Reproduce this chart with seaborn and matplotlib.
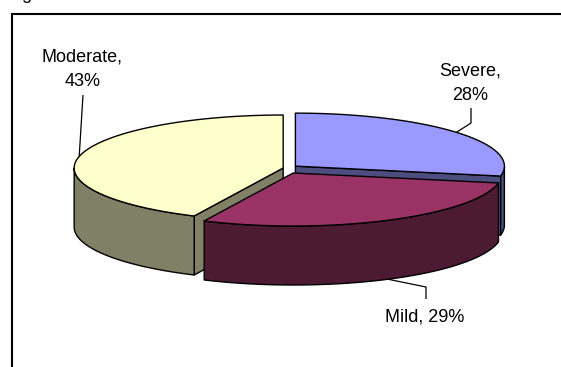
import numpy as np
import matplotlib
matplotlib.use("Agg")
import matplotlib.pyplot as plt
from matplotlib.patches import Polygon
import seaborn as sns

# Severity split
categories = ["Severe", "Mild", "Moderate"]
shares = [28, 29, 43]
top_colors = ["#9999FF", "#993366", "#FFFFCC"]

sns.set_theme(style="white")
plt.rcParams["font.family"] = ["Liberation Sans", "DejaVu Sans"]

W, H = 561, 367
fig = plt.figure(figsize=(W / 100, H / 100), dpi=100)
ax = fig.add_axes([0, 0, 1, 1])
ax.set_xlim(0, W)
ax.set_ylim(H, 0)
ax.axis("off")

# 3-D pie geometry (pixel units)
CX, CY = 290, 169
RX, RY = 209, 53
DEPTH = 59
EXPLODE_X, EXPLODE_Y = 7, 4.5
EDGE = dict(edgecolor="black", linewidth=1.0, joinstyle="round")

palette = sns.color_palette(top_colors)
side_colors = [tuple(0.5 * np.array(c)) for c in palette]


def rim(center, deg, dz=0.0):
    t = np.radians(deg)
    return (center[0] + RX * np.sin(t), center[1] - RY * np.cos(t) + dz)


def arc(center, a1, a2, dz=0.0, n=120):
    ts = np.linspace(a1, a2, n)
    return [rim(center, t, dz) for t in ts]


total = float(sum(shares))
bounds = np.concatenate([[0.0], np.cumsum(shares) / total * 360.0])
slices = []
for i, cat in enumerate(categories):
    a1, a2 = bounds[i], bounds[i + 1]
    mid = np.radians((a1 + a2) / 2)
    center = (CX + EXPLODE_X * np.sin(mid), CY - EXPLODE_Y * np.cos(mid))
    slices.append(dict(a1=a1, a2=a2, mid=np.degrees(mid), center=center, idx=i))

# painter's order: back slices first, the slice nearest the viewer last
order = sorted(slices, key=lambda s: -np.cos(np.radians(s["mid"])))

for s in order:
    c, a1, a2, i = s["center"], s["a1"], s["a2"], s["idx"]
    # radial cut faces that turn towards the viewer
    for a, normal in ((a1, a1 - 90), (a2, a2 + 90)):
        if np.cos(np.radians(normal)) < -1e-6:
            p = rim(c, a)
            quad = [c, p, (p[0], p[1] + DEPTH), (c[0], c[1] + DEPTH)]
            ax.add_patch(Polygon(quad, closed=True, facecolor=side_colors[i], **EDGE))
    # outer curved wall on the front half
    lo, hi = max(a1, 90.0), min(a2, 270.0)
    if hi > lo:
        wall = arc(c, lo, hi) + arc(c, hi, lo, DEPTH)
        ax.add_patch(Polygon(wall, closed=True, facecolor=side_colors[i], **EDGE))
    # top face
    top = [c] + arc(c, a1, a2)
    ax.add_patch(Polygon(top, closed=True, facecolor=palette[i], **EDGE))

# data labels with leader lines
label_layout = {
    "Severe": dict(lines=2, x=470.5, y=76, path=[(471, 123), (471, 108)], side=0),
    "Mild": dict(lines=1, x=425, y=322, path=[(426, 287), (426, 299)], side=1),
    "Moderate": dict(lines=2, x=82.5, y=62, path=[(83, 95)], side=0),
}
for s in slices:
    cat = categories[s["idx"]]
    pct = shares[s["idx"]]
    lay = label_layout[cat]
    anchor = rim(s["center"], s["mid"], DEPTH if lay["side"] else 0.0)
    pts = [anchor] + lay["path"]
    ax.plot([p[0] for p in pts], [p[1] for p in pts], color="black", lw=0.9,
            solid_capstyle="butt")
    if lay["lines"] == 2:
        texts = [f"{cat},", f"{pct}%"]
    else:
        texts = [f"{cat}, {pct}%"]
    for k, t in enumerate(texts):
        ax.text(lay["x"], lay["y"] + 24 * k, t, ha="center", va="baseline",
                fontsize=13, color="black")

# chart frame and clipped title above it
ax.plot([12.5, 12.5, W + 5], [H + 5, 13.5, 13.5], color="black", lw=1.5,
        solid_joinstyle="miter", clip_on=False)
ax.text(21.5, -1, "g", ha="left", va="baseline", fontsize=13, color="black")

fig.savefig("out.png", dpi=100)
